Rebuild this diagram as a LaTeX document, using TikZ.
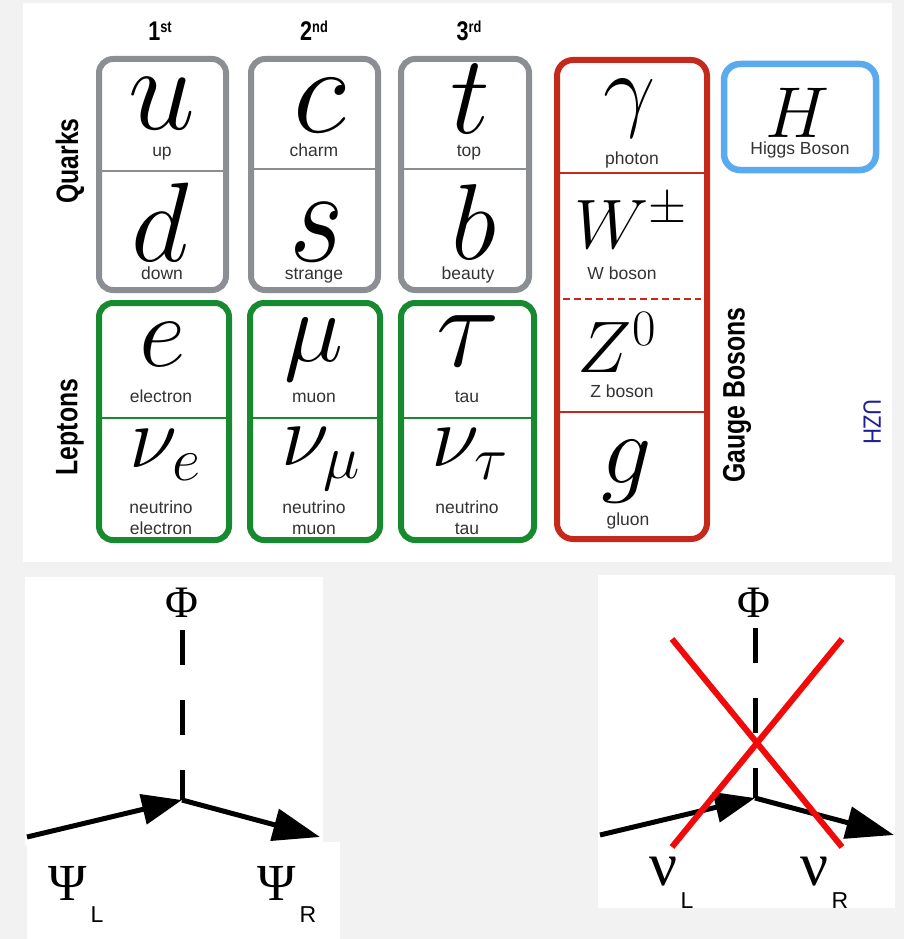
\RequirePackage{fix-cm}
\documentclass[tikz,border=0pt]{standalone}
\usepackage{fontspec}
\setmainfont{Liberation Sans}
\newfontfamily\grserif{Liberation Serif}
\usetikzlibrary{arrows.meta}
\definecolor{bggray}{HTML}{F2F2F2}
\definecolor{qgray}{HTML}{8B8E92}
\definecolor{lgreen}{HTML}{178A30}
\definecolor{gred}{HTML}{C42A1C}
\definecolor{hblue}{HTML}{5AAAF0}
\definecolor{uzhblue}{HTML}{1E1E96}
\definecolor{xred}{HTML}{F00A0A}
\definecolor{labgray}{HTML}{333333}
\newcommand\psym[2]{\fontsize{#1}{#1}\selectfont$#2$}
\newcommand\condtext[1]{\scalebox{0.8}[1]{#1}}
\begin{document}
\begin{tikzpicture}[x=1pt,y=-1pt,
  qbox/.style={draw=qgray,line width=6pt,rounded corners=14pt},
  lbox/.style={draw=lgreen,line width=6pt,rounded corners=14pt},
  gbox/.style={draw=gred,line width=6pt,rounded corners=16pt},
  hbox/.style={draw=hblue,line width=6.5pt,rounded corners=16pt},
  qdiv/.style={draw=qgray,line width=1.5pt},
  ldiv/.style={draw=lgreen,line width=1.5pt},
  gdiv/.style={draw=gred,line width=1.8pt},
  gdash/.style={draw=gred,line width=2.7pt,dash pattern=on 6.5pt off 4.5pt},
  sym/.style={inner sep=0pt,anchor=base},
  lbl/.style={inner sep=0pt,anchor=base,text=labgray,font=\fontsize{17.5}{20}\selectfont},
  hdr/.style={inner sep=0pt,anchor=base,font=\fontsize{27}{27}\selectfont\bfseries},
  side/.style={inner sep=0pt,rotate=90,font=\fontsize{31}{31}\selectfont\bfseries},
  grk/.style={inner sep=0pt,anchor=base,font=\grserif},
  subl/.style={inner sep=0pt,anchor=base,font=\fontsize{23}{23}\selectfont},
  fline/.style={line width=5pt,draw=black},
  vdash/.style={line width=5pt,draw=black,dash pattern=on 35pt off 35pt},
  xline/.style={line width=6pt,draw=xred}
]
\useasboundingbox (0,0) rectangle (904,939);
\fill[bggray] (0,0) rectangle (904,939);
\fill[white] (23,3) rectangle (892,562);
\fill[white] (25,577) rectangle (323,845);
\fill[white] (27,842) rectangle (340,939);
\fill[white] (598,575) rectangle (895,908);

% headers
\node[hdr] (h1) at (160,41) {\condtext{1\raisebox{0.3em}{\fontsize{16}{16}\selectfont st}}};
\node[hdr] (h2) at (314,41) {\condtext{2\raisebox{0.3em}{\fontsize{16}{16}\selectfont nd}}};
\node[hdr] (h3) at (469,41) {\condtext{3\raisebox{0.3em}{\fontsize{16}{16}\selectfont rd}}};

% side labels
\node[side] (quarks) at (70,161) {\condtext{Quarks}};
\node[side] (leptons) at (70,427) {\condtext{Leptons}};
\node[side] (gauge) at (737,395) {\condtext{Gauge Bosons}};
\node[inner sep=0pt,rotate=-90,text=uzhblue,font=\fontsize{25}{25}\selectfont] (uzh) at (872,422) {\scalebox{0.88}[1]{UZH}};

% quark boxes
\draw[qbox] (99,59) rectangle (226,290);
\draw[qdiv] (99,171) -- (226,171);
\draw[qbox] (251,59) rectangle (378,290);
\draw[qdiv] (251,169) -- (378,169);
\draw[qbox] (401,59) rectangle (529,290);
\draw[qdiv] (401,169) -- (529,169);

% lepton boxes
\draw[lbox] (99,303) rectangle (229,540);
\draw[ldiv] (99,418) -- (229,418);
\draw[lbox] (250,303) rectangle (380,540);
\draw[ldiv] (250,418) -- (380,418);
\draw[lbox] (401,303) rectangle (534,540);
\draw[ldiv] (401,418) -- (534,418);

% gauge box
\draw[gbox] (557,60) rectangle (707,539);
\draw[gdiv] (557,173) -- (707,173);
\draw[gdash] (563,299) -- (701,299);
\draw[gdiv] (557,412) -- (707,412);

% higgs box
\draw[hbox] (724,64) rectangle (876,170);

% quark symbols
\node[sym] (u) at (162,129) {\psym{120}{u}};
\node[lbl] (lup) at (162,157) {up};
\node[sym] (c) at (320,132) {\psym{125}{c}};
\node[lbl] (lcharm) at (314,157) {charm};
\node[sym] (t) at (470,134) {\psym{112}{t}};
\node[lbl] (ltop) at (469,157) {top};
\node[sym] (d) at (160,261) {\psym{113}{d}};
\node[lbl] (ldown) at (162,279) {down};
\node[sym] (s) at (317,261) {\scalebox{1}[1.15]{\psym{118}{s}}};
\node[lbl] (lstrange) at (314,279) {strange};
\node[sym] (b) at (474,259) {\psym{108}{b}};
\node[lbl] (lbeauty) at (468,279) {beauty};

% lepton symbols
\node[sym] (e) at (163,366) {\psym{102}{e}};
\node[lbl] (lelectron) at (161,402) {electron};
\node[sym] (mu) at (314,361) {\psym{100}{\mu}};
\node[lbl] (lmuon) at (314,402) {muon};
\node[sym] (tau) at (468,366) {\psym{118}{\tau}};
\node[lbl] (ltau) at (467,402) {tau};
\node[sym] (nue) at (165,467) {\psym{88}{\nu_e}};
\node[lbl] (lnue1) at (161,513) {neutrino};
\node[lbl] (lnue2) at (161,534) {electron};
\node[sym] (numu) at (321,465) {\psym{88}{\nu_\mu}};
\node[lbl] (lnumu1) at (314,513) {neutrino};
\node[lbl] (lnumu2) at (314,534) {muon};
\node[sym] (nutau) at (470,466) {\psym{88}{\nu_\tau}};
\node[lbl] (lnutau1) at (467,513) {neutrino};
\node[lbl] (lnutau2) at (467,534) {tau};

% gauge symbols
\node[sym] (gamma) at (630,120) {\psym{93}{\gamma}};
\node[lbl] (lphoton) at (632,164) {photon};
\node[sym] (W) at (631,248) {\psym{70}{W^\pm}};
\node[lbl] (lW) at (622,279) {W boson};
\node[sym] (Z) at (617,372) {\psym{73}{Z^0}};
\node[lbl] (lZ) at (622,397) {Z boson};
\node[sym] (g) at (627,483) {\psym{100}{g}};
\node[lbl] (lgluon) at (628,525) {gluon};
\node[sym] (H) at (797,138) {\psym{72}{H}};
\node[lbl] (lH) at (800,154) {Higgs Boson};

% left Feynman vertex
\node[grk,font=\grserif\fontsize{45}{45}\selectfont] (phiL) at (182,617) {Φ};
\coordinate (dL) at (182,630);
\coordinate (vL) at (182,800);
\coordinate (inL) at (27,837);
\coordinate (outL) at (320,837);
\draw[vdash] (dL) -- (vL);
\draw[fline,-{Triangle[length=40pt,width=30pt]}] (inL) -- (vL);
\draw[fline,-{Triangle[length=47pt,width=32pt]}] (vL) -- (outL);
\node[grk,font=\grserif\fontsize{52}{52}\selectfont] (psiL) at (68,900) {Ψ};
\node[subl] (subL) at (97,922) {L};
\node[grk,font=\grserif\fontsize{52}{52}\selectfont] (psiR) at (277,900) {Ψ};
\node[subl] (subR) at (308,922) {R};

% right Feynman vertex
\node[grk,font=\grserif\fontsize{45}{45}\selectfont] (phiR) at (754,617) {Φ};
\coordinate (dR) at (755,628);
\coordinate (vR) at (755,798);
\coordinate (inR) at (600,835);
\coordinate (outR) at (894,835);
\draw[vdash] (dR) -- (vR);
\draw[fline,-{Triangle[length=40pt,width=30pt]}] (inR) -- (vR);
\draw[fline,-{Triangle[length=48pt,width=32pt]}] (vR) -- (outR);
\node[grk,font=\grserif\fontsize{62}{62}\selectfont] (nuL) at (664,885) {ν};
\node[subl] (nsubL) at (687,908) {L};
\node[grk,font=\grserif\fontsize{62}{62}\selectfont] (nuR) at (815,885) {ν};
\node[subl] (nsubR) at (840,908) {R};

% red cross
\coordinate (x1) at (672,639);
\coordinate (x2) at (842,847);
\coordinate (x3) at (842,639);
\coordinate (x4) at (672,847);
\draw[xline] (x1) -- (x2);
\draw[xline] (x3) -- (x4);
\end{tikzpicture}
\end{document}
